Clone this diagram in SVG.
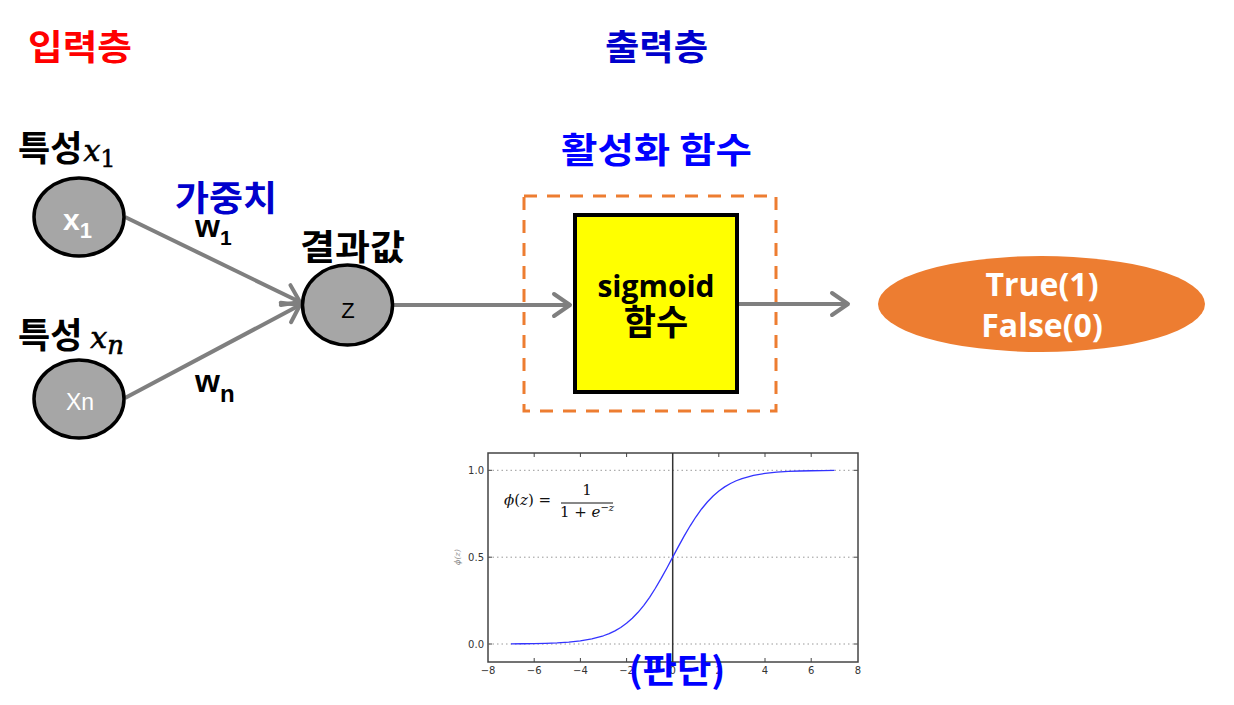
<svg xmlns="http://www.w3.org/2000/svg" width="1234" height="705" viewBox="0 0 1234 705">
<style>
.kr{font-family:"Noto Sans CJK KR","Noto Sans",sans-serif;font-weight:bold;font-size:35px}
.lat{font-family:"Open Sans","Noto Sans",sans-serif;font-weight:bold}
.ar{font-family:"Liberation Sans",Arial,sans-serif}
.node{fill:#a6a6a6;stroke:#000;stroke-width:3.5}
.conn{stroke:#7f7f7f;stroke-width:4;fill:none}
.tick{font-family:"DejaVu Sans","Liberation Sans",sans-serif;font-size:10px;fill:#333}
.math{font-family:"DejaVu Serif","Liberation Serif",serif;font-style:italic;font-weight:normal;stroke:#000;stroke-width:0.6}
.fm{font-family:"DejaVu Serif","Liberation Serif",serif}
</style>
<defs>
<marker id="arr" markerUnits="userSpaceOnUse" markerWidth="22" markerHeight="28" viewBox="0 0 22 28" refX="19" refY="14" orient="auto">
<path d="M3,3 L19,14 L3,25" fill="none" stroke="#7f7f7f" stroke-width="4" stroke-linecap="round" stroke-linejoin="round"/>
</marker>
</defs>
<rect width="1234" height="705" fill="#fff"/>

<text class="kr" x="28" y="60" fill="#ff0000" textLength="104" lengthAdjust="spacingAndGlyphs">입력층</text>
<text class="kr" x="605" y="60" fill="#0000cc" textLength="103" lengthAdjust="spacingAndGlyphs">출력층</text>

<g id="connectors">
<line class="conn" x1="125" y1="217" x2="300" y2="302" marker-end="url(#arr)"/>
<line class="conn" x1="125" y1="398" x2="300" y2="305" marker-end="url(#arr)"/>
<line class="conn" x1="393" y1="305" x2="570" y2="305" marker-end="url(#arr)"/>
<line class="conn" x1="737" y1="304" x2="848" y2="304" marker-end="url(#arr)"/>
</g>

<g id="node-x1">
<text class="kr" x="18" y="161" fill="#000">특성<tspan class="math" font-size="30" dx="1">x</tspan><tspan class="fm" font-weight="normal" font-size="24" dy="6" stroke="#000" stroke-width="0.5">1</tspan></text>
<ellipse class="node" cx="79" cy="217" rx="45" ry="39"/>
<text class="ar" x="63" y="230" fill="#fff" font-weight="bold" font-size="30">x<tspan font-size="22" dy="8">1</tspan></text>
</g>

<g id="node-xn">
<text class="kr" x="18" y="348" fill="#000">특성 <tspan class="math" font-size="30">x</tspan><tspan class="math" font-size="26" dy="6">n</tspan></text>
<ellipse class="node" cx="79" cy="399" rx="45" ry="39"/>
<text class="ar" x="80" y="410" fill="#fff" font-size="23" text-anchor="middle">Xn</text>
</g>

<g id="weights">
<text class="kr" x="175" y="211" fill="#0000cc" textLength="102" lengthAdjust="spacingAndGlyphs">가중치</text>
<text class="ar" x="195" y="237" font-weight="bold" font-size="32" fill="#000">w<tspan font-size="21" dy="8">1</tspan></text>
<text class="ar" x="195" y="392" font-weight="bold" font-size="32" fill="#000">w<tspan font-size="24" dy="10">n</tspan></text>
</g>

<g id="node-z">
<text class="kr" x="300" y="260" fill="#000" textLength="105" lengthAdjust="spacingAndGlyphs">결과값</text>
<ellipse class="node" cx="347.5" cy="305" rx="45" ry="40"/>
<text class="ar" x="348" y="318" font-size="22" text-anchor="middle" fill="#000">Z</text>
</g>

<g id="activation">
<text class="kr" x="561" y="163" fill="#0000ff" textLength="191" lengthAdjust="spacingAndGlyphs">활성화 함수</text>
<rect x="524" y="196" width="252" height="215" fill="none" stroke="#ed7d31" stroke-width="3" stroke-dasharray="13,10"/>
</g>

<g id="node-sigmoid">
<rect x="575" y="215" width="162" height="177" fill="#ffff00" stroke="#000" stroke-width="4"/>
<text class="lat" x="656" y="297" font-size="30" text-anchor="middle" fill="#000">sigmoid</text>
<text class="kr" x="656" y="335" font-size="29" text-anchor="middle" fill="#000">함수</text>
</g>

<g id="node-output">
<ellipse cx="1041.5" cy="304" rx="163.5" ry="48" fill="#ed7d31"/>
<text class="lat" x="1042" y="296" font-size="32" text-anchor="middle" fill="#fff">True(1)</text>
<text class="lat" x="1042" y="337" font-size="32" text-anchor="middle" fill="#fff">False(0)</text>
</g>

<g id="plot">
<rect x="488" y="453" width="370" height="209" fill="#fff" stroke="#444" stroke-width="1.5"/>
<g stroke="#999" stroke-width="1" stroke-dasharray="1.5,3">
<line x1="488" y1="470.3" x2="858" y2="470.3"/>
<line x1="488" y1="557.2" x2="858" y2="557.2"/>
<line x1="488" y1="644" x2="858" y2="644"/>
</g>
<g stroke="#444" stroke-width="1">
<path d="M534.2,453v4M580.4,453v4M626.6,453v4M718.8,453v4M765,453v4M811.2,453v4M534.2,662v-4M580.4,662v-4M626.6,662v-4M718.8,662v-4M765,662v-4M811.2,662v-4M488,470.3h4M488,557.2h4M488,644h4M858,470.3h-4M858,557.2h-4M858,644h-4"/>
</g>
<line x1="672.7" y1="453" x2="672.7" y2="662" stroke="#333" stroke-width="1.5"/>
<path d="M511,643.84 L522.55,643.74 L534.1,643.57 L545.65,643.29 L557.2,642.84 L568.75,642.09 L580.3,640.88 L591.85,638.91 L603.4,635.76 L609.18,633.56 L614.95,630.82 L620.73,627.44 L626.5,623.29 L632.28,618.28 L638.05,612.31 L643.83,605.32 L649.6,597.28 L655.38,588.27 L661.15,578.42 L666.93,567.95 L672.7,557.15 L678.48,546.35 L684.25,535.88 L690.03,526.03 L695.8,517.02 L701.58,508.98 L707.35,501.99 L713.13,496.02 L718.9,491.01 L724.68,486.86 L730.45,483.48 L736.23,480.74 L742,478.54 L753.55,475.39 L765.1,473.42 L776.65,472.21 L788.2,471.46 L799.75,471.01 L811.3,470.73 L822.85,470.56 L834.4,470.46" fill="none" stroke="#3333ff" stroke-width="1.3" stroke-linejoin="round"/>
<g class="tick" text-anchor="middle">
<text x="488" y="674">−8</text>
<text x="534.2" y="674">−6</text>
<text x="580.4" y="674">−4</text>
<text x="626.6" y="674">−2</text>
<text x="672.7" y="674">0</text>
<text x="718.8" y="674">2</text>
<text x="765" y="674">4</text>
<text x="811.2" y="674">6</text>
<text x="858" y="674">8</text>
</g>
<g class="tick" text-anchor="end">
<text x="484" y="474">1.0</text>
<text x="484" y="561">0.5</text>
<text x="484" y="648">0.0</text>
</g>
<text class="fm" x="460" y="557" font-size="8" font-style="italic" fill="#888" text-anchor="middle" transform="rotate(-90 460 557)">ϕ(z)</text>
<text class="fm" x="504" y="505" font-size="15" fill="#111"><tspan font-style="italic">ϕ</tspan>(<tspan font-style="italic">z</tspan>) =</text>
<text class="fm" x="587" y="495" font-size="15" fill="#111" text-anchor="middle">1</text>
<line x1="561" y1="503" x2="613" y2="503" stroke="#111" stroke-width="1"/>
<text class="fm" x="587" y="517" font-size="15" fill="#111" text-anchor="middle">1 + <tspan font-style="italic">e</tspan><tspan font-size="10" dy="-6">−<tspan font-style="italic">z</tspan></tspan></text>
</g>

<text class="kr" x="677" y="683" font-size="36" fill="#0000ff" text-anchor="middle" textLength="97" lengthAdjust="spacingAndGlyphs">(판단)</text>
</svg>
